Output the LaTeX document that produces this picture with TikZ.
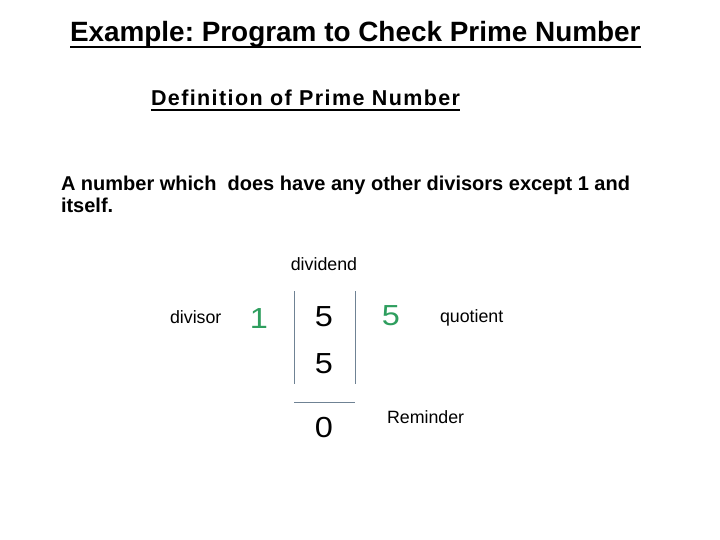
\documentclass[tikz,border=0pt]{standalone}
\usepackage{fontspec}
\setmainfont{Liberation Sans}
\definecolor{numgreen}{HTML}{2E9E5E}
\definecolor{rulegray}{HTML}{6F8294}
\begin{document}
\frenchspacing
\begin{tikzpicture}[x=1pt,y=-1pt,
  every node/.style={inner sep=0pt,outer sep=0pt},
  lbl/.style={font=\fontsize{17.8}{21}\selectfont,anchor=base west},
  bignum/.style={font=\fontsize{29}{34}\selectfont,anchor=base,xscale=1.12},
  divline/.style={draw=rulegray,line width=0.8pt}]
\useasboundingbox (0,0) rectangle (720,540);
% title
\node[font=\fontsize{27.9}{32}\selectfont\bfseries,anchor=base west] (title) at (70,42) {Example: Program to Check Prime Number};
\draw[line width=1.6pt] ([yshift=-5pt]title.base west) -- ([yshift=-5pt]title.base east);
\node[font=\fontsize{21.5}{26}\selectfont\bfseries\addfontfeatures{LetterSpace=6.5},anchor=base west] (def) at (151,106) {Definition of Prime Number};
\draw[line width=1.3pt] ([yshift=-4pt]def.base west) -- ([yshift=-4pt]def.base east);
\node[font=\fontsize{20}{24}\selectfont\bfseries,anchor=base west] (body1) at (61,191) {A number which\ \ does have any other divisors except 1 and};
\node[font=\fontsize{20}{24}\selectfont\bfseries,anchor=base west] (body2) at (61,213) {itself.};
% division
\node[lbl,anchor=base] (dividend) at (324,270) {dividend};
\node[lbl] (divisor) at (170,323) {divisor};
\node[bignum,text=numgreen] (one) at (259,328) {1};
\node[bignum] (five1) at (324,326) {5};
\node[bignum] (five2) at (324,373) {5};
\node[bignum] (zero) at (324,437) {0};
\node[bignum,text=numgreen] (quot) at (391,325) {5};
\node[lbl] (quotient) at (440,322) {quotient};
\node[lbl] (rem) at (387,423) {Reminder};
\coordinate (tl) at (294,291);
\coordinate (bl) at (294,384);
\coordinate (tr) at (355,291);
\coordinate (br) at (355,384);
\coordinate (hl) at (294,402);
\coordinate (hr) at (355,402);
\draw[divline] (tl) -- (bl);
\draw[divline] (tr) -- (br);
\draw[divline] (hl) -- (hr);
\end{tikzpicture}
\end{document}
